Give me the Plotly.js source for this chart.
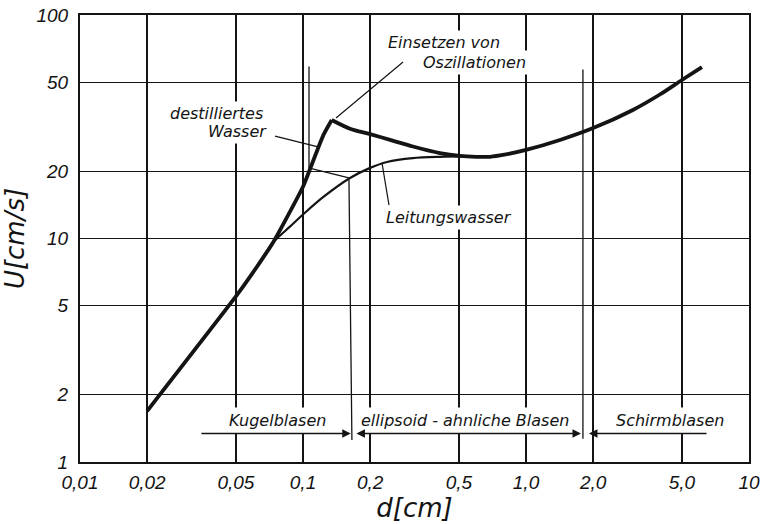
<!DOCTYPE html>
<html>
<head>
<meta charset="utf-8">
<script src="https://cdn.plot.ly/plotly-3.0.1.min.js"></script>
<style>html,body{margin:0;padding:0;background:#fff}#chart{width:762px;height:524px}</style>
</head>
<body>
<div id="chart"></div>
<script>
// ---- data ----
const distilledD = [0.02, 0.0506, 0.0578, 0.0734, 0.1, 0.1074, 0.1234, 0.1345, 0.1625, 0.2, 0.25, 0.311, 0.411, 0.506, 0.6, 0.69, 0.8, 1.0, 1.42, 2.0, 3.0, 4.0, 5.0, 6.15];
const distilledU = [1.69, 5.59, 6.73, 9.6, 17.05, 20.4, 29.0, 33.9, 31.0, 29.3, 27.5, 25.8, 24.1, 23.4, 23.2, 23.2, 23.7, 24.9, 27.6, 31.2, 37.5, 44.2, 51.2, 58.5];
const distilledPeakIndex = 7; // sharp corner at the onset of oscillations
const tapD = [0.02, 0.0506, 0.0578, 0.0734, 0.0874, 0.1, 0.123, 0.1625, 0.2, 0.238, 0.311, 0.411, 0.506, 0.6, 0.69];
const tapU = [1.69, 5.59, 6.73, 9.6, 11.3, 12.8, 15.3, 18.65, 20.7, 22.0, 22.9, 23.2, 23.3, 23.2, 23.2];

const xTickVals = [0.01, 0.02, 0.05, 0.1, 0.2, 0.5, 1, 2, 5, 10];
const xTickText = ['0,01', '0,02', '0,05', '0,1', '0,2', '0,5', '1,0', '2,0', '5,0', '10'];
const yTickVals = [1, 2, 5, 10, 20, 50, 100];
const yTickText = ['1', '2', '5', '10', '20', '50', '100'];

// text labels (left edge, vertical centre)
const labelTexts = ['Einsetzen von', 'Oszillationen', 'destilliertes', 'Wasser', 'Leitungswasser'];
const labelD = [0.2332, 0.3347, 0.02455, 0.03635, 0.2285];
const labelU = [75.7, 61.0, 36.4, 29.96, 12.48];

// leader lines
const leaderD = [[0.281, 0.1406], [0.0749, 0.1168], [0.226, 0.243]];
const leaderU = [[61.6, 34.6], [28.7, 25.7], [21.8, 14.1]];

// regime labels and arrows
const regimeTexts = ['Kugelblasen', 'ellipsoid - ahnliche Blasen', 'Schirmblasen'];
const regimeTextD = [0.0447, 0.1747, 2.43];
const regimeTextU = 1.526;
const regimeArrowTailD = [0.0345, 0.171, 6.55];
const regimeArrowHeadD = [0.1637, 1.764, 1.916];
const regimeArrowBoth = [false, true, false];
const regimeArrowU = 1.341;

// regime boundary lines
const boundary1D = [0.1064, 0.1064, 0.1607, 0.1657];
const boundary1U = [59.7, 20.67, 18.66, 1.254];
const boundary2D = [1.80, 1.80];
const boundary2U = [57.9, 1.27];

// ---- build ----
const lg = Math.log10;
const ink = '#141414';
const textFont = {family: 'DejaVu Sans, sans-serif', size: 16, color: ink, style: 'italic'};

const pk = distilledPeakIndex;
const traces = [
  {x: tapD, y: tapU, mode: 'lines', line: {color: ink, width: 2.2, shape: 'spline', smoothing: 0.8}, hoverinfo: 'skip'},
  {x: distilledD.slice(0, pk + 1), y: distilledU.slice(0, pk + 1), mode: 'lines',
   line: {color: ink, width: 3.8, shape: 'spline', smoothing: 0.5}, hoverinfo: 'skip'},
  {x: distilledD.slice(pk), y: distilledU.slice(pk), mode: 'lines',
   line: {color: ink, width: 3.8, shape: 'spline', smoothing: 0.9}, hoverinfo: 'skip'}
];
leaderD.forEach((d, i) => {
  traces.push({x: d, y: leaderU[i], mode: 'lines', line: {color: ink, width: 1.2}, hoverinfo: 'skip'});
});

const annotations = [];
labelTexts.forEach((t, i) => {
  annotations.push({x: lg(labelD[i]), y: lg(labelU[i]), xref: 'x', yref: 'y', text: t, showarrow: false,
    xanchor: 'left', yanchor: 'middle', font: textFont, bgcolor: 'white', borderpad: 2});
});
regimeTexts.forEach((t, i) => {
  annotations.push({x: lg(regimeTextD[i]), y: lg(regimeTextU), xref: 'x', yref: 'y', text: t, showarrow: false,
    xanchor: 'left', yanchor: 'middle', font: textFont, bgcolor: 'white', borderpad: 3});
});
function seg(d0, u0, d1, u1, head, both) {
  annotations.push({x: lg(d1), y: lg(u1), ax: lg(d0), ay: lg(u0), xref: 'x', yref: 'y', axref: 'x', ayref: 'y',
    text: '', showarrow: true, arrowhead: head, startarrowhead: head, arrowside: both ? 'end+start' : 'end',
    arrowsize: 1.3, arrowwidth: 1.3, arrowcolor: ink, standoff: 0, startstandoff: 0});
}
for (let i = 0; i < boundary1D.length - 1; i++) seg(boundary1D[i], boundary1U[i], boundary1D[i + 1], boundary1U[i + 1], 0, false);
seg(boundary2D[0], boundary2U[0], boundary2D[1], boundary2U[1], 0, false);
regimeArrowTailD.forEach((d, i) => seg(d, regimeArrowU, regimeArrowHeadD[i], regimeArrowU, 2, regimeArrowBoth[i]));

const axisCommon = {
  type: 'log', showgrid: true, gridcolor: ink, gridwidth: 1.4, zeroline: false,
  showline: true, mirror: true, linecolor: ink, linewidth: 2, ticks: '', fixedrange: true,
  tickfont: {family: 'Liberation Sans, Arial, sans-serif', size: 19, color: ink, style: 'italic'}
};
const layout = {
  width: 762, height: 524,
  margin: {l: 80, r: 13, t: 15, b: 62},
  paper_bgcolor: 'white', plot_bgcolor: 'white',
  showlegend: false,
  xaxis: Object.assign({}, axisCommon, {range: [-2, 1], tickmode: 'array', tickvals: xTickVals, ticktext: xTickText,
    ticklabelstandoff: 2,
    title: {text: 'd[cm]', font: {family: 'DejaVu Sans, sans-serif', size: 26, color: ink, style: 'italic'}, standoff: 0}}),
  yaxis: Object.assign({}, axisCommon, {range: [0, 2], tickmode: 'array', tickvals: yTickVals, ticktext: yTickText,
    ticklabelstandoff: 6,
    title: {text: 'U[cm/s]', font: {family: 'DejaVu Sans, sans-serif', size: 26, color: ink, style: 'italic'}, standoff: 4}}),
  annotations: annotations
};
Plotly.newPlot('chart', traces, layout, {staticPlot: true, displayModeBar: false});
</script>
</body>
</html>
